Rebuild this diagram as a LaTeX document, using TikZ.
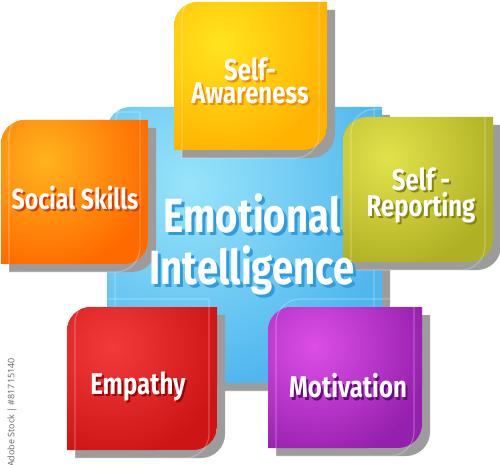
\documentclass[tikz,border=0pt]{standalone}
\usepackage{fontspec}
\newfontfamily\eifont[FakeStretch=0.8]{Fira Sans}
\newfontfamily\stockfont{Open Sans}
\definecolor{shadowgray}{HTML}{9C9C9C}
\definecolor{blueB}{HTML}{4FB6EE}\definecolor{blueL}{HTML}{98E4FA}\definecolor{blueS}{HTML}{2E9BE0}
\definecolor{yelB}{HTML}{FFB200}\definecolor{yelL}{HTML}{FFE41E}\definecolor{yelS}{HTML}{F08A00}
\definecolor{oraB}{HTML}{FF6A00}\definecolor{oraL}{HTML}{FFB31E}\definecolor{oraS}{HTML}{E03A00}
\definecolor{oliB}{HTML}{B0B025}\definecolor{oliL}{HTML}{E2E24C}\definecolor{oliS}{HTML}{858510}
\definecolor{redB}{HTML}{CE1515}\definecolor{redL}{HTML}{F23A3A}\definecolor{redS}{HTML}{9A0000}
\definecolor{purB}{HTML}{9620AE}\definecolor{purL}{HTML}{DC4EE6}\definecolor{purS}{HTML}{650A7C}
% shape: top-left and bottom-right rounded; args x1,y1,x2,y2 (image coords), options
\newcommand\eishape[5]{\path[#5] (#1,-#4) -- (#1,-#2-24) arc[start angle=180,end angle=90,radius=24] -- (#3,-#2) -- (#3,-#4+24) arc[start angle=0,end angle=-90,radius=24] -- cycle;}
% full box: x1,y1,x2,y2,base,light
\newcommand\eibox[6]{%
  \begin{scope}[shift={(8,-8)}]\eishape{#1}{#2}{#3}{#4}{fill=shadowgray}\end{scope}
  \begin{scope}
    \eishape{#1}{#2}{#3}{#4}{clip}
    \fill[#5] (#1,-#2) rectangle (#3,-#4);
    \shade[inner color=#6, outer color=#5] ({#1+0.3*(#3-#1)},{-#2-0.28*(#4-#2)}) circle ({0.75*(#3-#1)});
  \end{scope}
  \eishape{#1+8}{#2+8}{#3-8}{#4-8}{draw=white, draw opacity=0.25, line width=1.2pt}
}
\tikzset{
  eitext/.style={font=\eifont\bfseries, align=center, inner sep=0pt, text=white},
}
% label: name, x, y, size, shadow colour, text
\newcommand\eilabel[6]{%
  \node[eitext, text=#5, font=\eifont\bfseries\fontsize{#4}{#4}\selectfont] (#1s) at (#2+2,-#3-2.2) {#6};
  \node[eitext, font=\eifont\bfseries\fontsize{#4}{#4}\selectfont] (#1) at (#2,-#3) {#6};
}
\begin{document}
\begin{tikzpicture}[x=1pt,y=1pt]
\useasboundingbox (0,0) rectangle (500,-465);
\fill[white] (0,0) rectangle (500,-465);
% central box
\eibox{107}{107}{382}{383}{blueB}{blueL}
% surrounding boxes
\eibox{174}{2}{327}{150}{yelB}{yelL}
\eibox{1}{120}{148}{264}{oraB}{oraL}
\eibox{343}{117}{493}{262}{oliB}{oliL}
\eibox{67}{307}{217}{450}{redB}{redL}
\eibox{268}{307}{422}{448}{purB}{purL}
% labels
\node[eitext, text=blueS, font=\eifont\bfseries\fontsize{48}{52}\selectfont] (eis) at (252+3,-244-3) {Emotional\\Intelligence};
\node[eitext, font=\eifont\bfseries\fontsize{48}{52}\selectfont] (ei) at (252,-244) {Emotional\\Intelligence};
\node[eitext, text=yelS, font=\eifont\bfseries\fontsize{30}{23}\selectfont] (sas) at (250+2,-81-2.2) {Self-\\Awareness};
\node[eitext, font=\eifont\bfseries\fontsize{30}{23}\selectfont] (sa) at (250,-81) {Self-\\Awareness};
\node[eitext, text=oliS, font=\eifont\bfseries\fontsize{30}{26}\selectfont] (srs) at (421+2,-195-2.2) {Self -\\Reporting};
\node[eitext, font=\eifont\bfseries\fontsize{30}{26}\selectfont] (sr) at (421,-195) {Self -\\Reporting};
\eilabel{ss}{75}{198}{29}{oraS}{Social Skills}
\eilabel{em}{138}{386}{30}{redS}{Empathy}
\eilabel{mo}{348}{386}{30}{purS}{Motivation}
% stock text
\node[font=\stockfont\fontsize{9}{10}\selectfont, text=black!60, rotate=90, anchor=east, inner sep=0pt] (stock) at (12,-358) {Adobe Stock | \#81715140};
\end{tikzpicture}
\end{document}
